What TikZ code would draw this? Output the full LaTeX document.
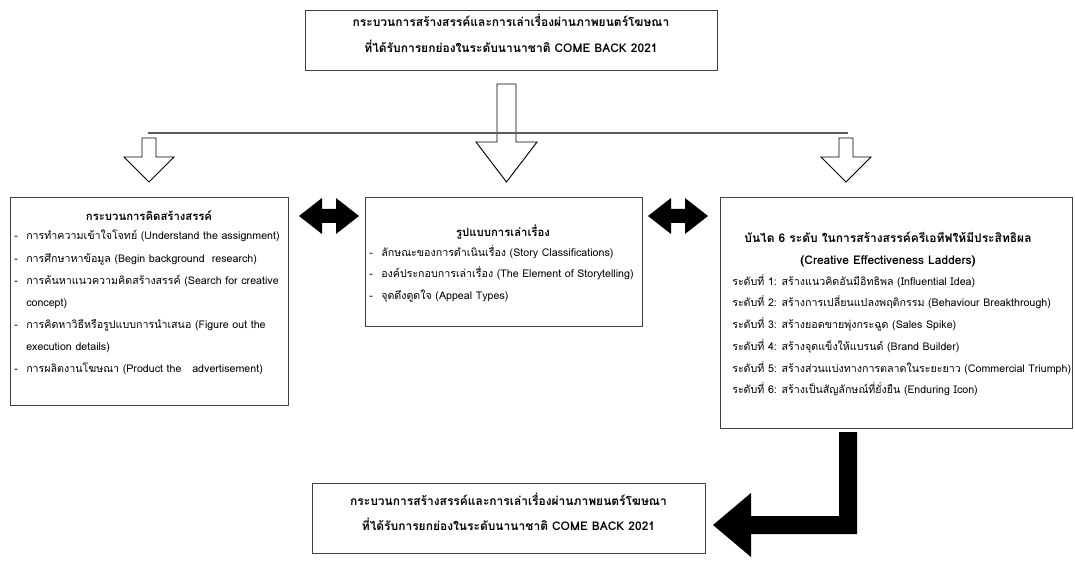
\documentclass[tikz,border=0pt]{standalone}
\usepackage{fontspec}
\setmainfont{Loma}[Script=Thai]
\usetikzlibrary{positioning,fit}
\tikzset{
  kaste/.style={draw=black!75, line width=0.7pt, inner sep=0pt},
  hua/.style={font=\bfseries\fontsize{8.5}{16.5}\selectfont, align=center, inner sep=0pt},
  raikan/.style={align=left, anchor=north west, inner sep=0pt},
  luk/.style={draw=black, line width=0.7pt, fill=white, line join=miter},
  lukdam/.style={fill=black},
  sen/.style={draw=black!65, line width=0.8pt},
}
\newcommand{\khid}{\makebox[9pt][l]{-}}
\newcommand{\tor}{\hspace*{9pt}}

\begin{document}
\begin{tikzpicture}[x=0.75pt, y=-0.75pt, font=\fontsize{8}{16.3}\selectfont]
  \useasboundingbox (0,0) rectangle (1075,563);
  % top and bottom boxes
  \node[kaste, fit={(305,10) (717,70)}, hua, font=\bfseries\fontsize{9}{19.5}\selectfont] (bon) {กระบวนการสร้างสรรค์และการเล่าเรื่องผ่านภาพยนตร์โฆษณา\\ ที่ได้รับการยกย่องในระดับนานาชาติ COME BACK 2021};
  \node[kaste, fit={(312,483) (705,553)}, hua, font=\bfseries\fontsize{9}{19}\selectfont] (lang) {กระบวนการสร้างสรรค์และการเล่าเรื่องผ่านภาพยนตร์โฆษณา\\ ที่ได้รับการยกย่องในระดับนานาชาติ COME BACK 2021};
  % three boxes
  \node[kaste, fit={(10,197) (288,405)}] (sai) {};
  \node[kaste, fit={(365,197) (642,326)}] (klang) {};
  \node[kaste, fit={(720,197) (1072,428)}] (khwa) {};
  \node[hua] (sai-hua) at (149,216) {กระบวนการคิดสร้างสรรค์};
  \node[raikan, font=\fontsize{8}{16.6}\selectfont] (sai-list) at (14,230) {\khid การทำความเข้าใจโจทย์ (Understand the assignment)\\
    \khid การศึกษาหาข้อมูล (Begin background~ research)\\
    \khid การค้นหาแนวความคิดสร้างสรรค์ (Search for creative\\
    \tor concept)\\
    \khid การคิดหาวิธีหรือรูปแบบการนำเสนอ (Figure out the\\
    \tor execution details)\\
    \khid การผลิตงานโฆษณา (Product the~~ advertisement)};
  \node[hua] (klang-hua) at (503,232) {รูปแบบการเล่าเรื่อง};
  \node[raikan] (klang-list) at (369,245) {\khid ลักษณะของการดำเนินเรื่อง (Story Classifications)\\
    \khid องค์ประกอบการเล่าเรื่อง (The Element of Storytelling)\\
    \khid จุดดึงดูดใจ (Appeal Types)};
  \node[hua, font=\bfseries\fontsize{9}{16.5}\selectfont] (khwa-hua) at (888,249) {บันได 6 ระดับ ในการสร้างสรรค์ครีเอทีฟให้มีประสิทธิผล\\ (Creative Effectiveness Ladders)};
  \node[raikan] (khwa-list) at (732,274) {ระดับที่ 1: สร้างแนวคิดอันมีอิทธิพล (Influential Idea)\\
    ระดับที่ 2: สร้างการเปลี่ยนแปลงพฤติกรรม (Behaviour Breakthrough)\\
    ระดับที่ 3: สร้างยอดขายพุ่งกระฉูด (Sales Spike)\\
    ระดับที่ 4: สร้างจุดแข็งให้แบรนด์ (Brand Builder)\\
    ระดับที่ 5: สร้างส่วนแบ่งทางการตลาดในระยะยาว (Commercial Triumph)\\
    ระดับที่ 6: สร้างเป็นสัญลักษณ์ที่ยั่งยืน (Enduring Icon)};
  % hollow arrows
  \draw[luk] (497,84) -- (516,84) -- (516,142) -- (537,142) -- (506.5,182) -- (476,142) -- (497,142) -- cycle;
  \draw[sen] (148,133) -- (848,133);
  \foreach \cx in {149,846}
    \draw[luk, shift={(\cx,0)}] (-7,138) -- (7,138) -- (7,157) -- (25,157) -- (0,182) -- (-25,157) -- (-7,157) -- cycle;
  % black arrows
  \foreach \cx in {329,678}
    \fill[lukdam, shift={(\cx,216)}] (-30,0) -- (-7,-18) -- (-7,-7) -- (7,-7) -- (7,-18) -- (30,0) -- (7,18) -- (7,7) -- (-7,7) -- (-7,18) -- cycle;
  \fill[lukdam] (839,432) -- (857,432) -- (857,534) -- (751,534) -- (751,557) -- (713,525) -- (751,493) -- (751,516) -- (839,516) -- cycle;
\end{tikzpicture}
\end{document}
